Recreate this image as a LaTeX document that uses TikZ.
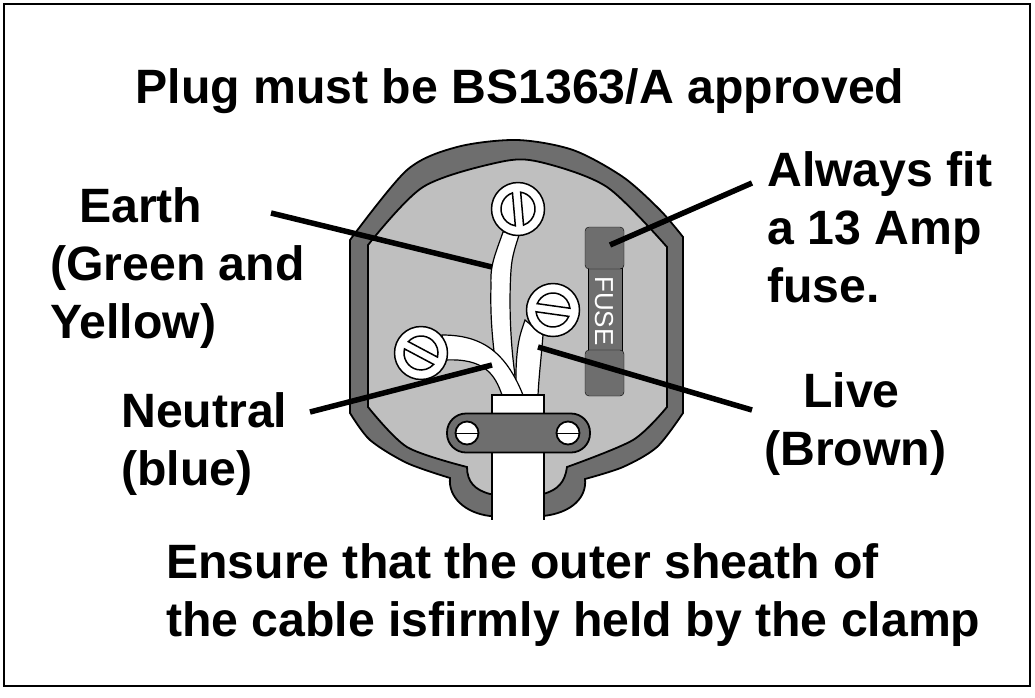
\documentclass[tikz,border=0pt]{standalone}
\usepackage{fontspec}
\setmainfont{Liberation Sans}
\usetikzlibrary{calc}
\definecolor{casing}{gray}{.43}
\definecolor{inside}{gray}{.75}
\tikzset{
  label_text/.style={font=\fontsize{48.2}{58}\bfseries\selectfont, align=left, inner sep=0pt, anchor=base west},
  leader/.style={line width=5.5pt, black},
  outline/.style={line width=1.8pt},
  wire/.style={draw, fill=white, line width=1.2pt},
  terminal/.style={draw, line width=1.5pt, fill=white, circle, minimum size=53pt, inner sep=0pt}
}
\begin{document}
\begin{tikzpicture}[x=1pt,y=-1pt]
  \useasboundingbox (0,0) rectangle (1035,697);
  \node [draw, line width=2pt, rectangle, minimum width=1026pt, minimum height=682pt, inner sep=0pt] at (517,345) (frame) {};

  % casing
  \draw [outline, fill=casing] plot [smooth, tension=.5] coordinates {(350,240) (407,170) (457,147) (517,140) (573,150) (623,177) (660,210) (683,237)}
    -- (683,413) -- plot [smooth, tension=.5] coordinates {(683,413) (657,447) (623,467) (585,479)}
    .. controls (587,497) and (572,513) .. (543,516) -- (490,516)
    .. controls (465,513) and (448,497) .. (450,478)
    -- plot [smooth, tension=.5] coordinates {(450,478) (407,463) (370,440) (350,413)} -- cycle;
  \draw [outline, fill=inside] plot [smooth, tension=.5] coordinates {(368,245) (423,187) (500,162) (540,162) (607,187) (667,247)}
    -- (667,407) -- plot [smooth, tension=.5] coordinates {(667,407) (633,440) (567,467)}
    .. controls (565,482) and (558,490) .. (543,494) -- (490,494)
    .. controls (475,490) and (467,482) .. (467,467)
    -- plot [smooth, tension=.5] coordinates {(467,467) (407,447) (368,407)} -- cycle;

  % fuse
  \node [draw, fill=casing, minimum width=34pt, minimum height=84pt, inner sep=0pt] at (605,310) (fuse_body) {};
  \node [draw, fill=casing, rounded corners=4pt, minimum width=39pt, minimum height=42pt, inner sep=0pt] at (604.5,248) (fuse_top) {};
  \node [draw, fill=casing, rounded corners=4pt, minimum width=39pt, minimum height=46pt, inner sep=0pt] at (604.5,373) (fuse_bottom) {};
  \node [rotate=-90, text=white, font=\fontsize{26}{26}\selectfont, inner sep=0pt] at (604,311) (fuse_label) {FUSE};

  % wires
  \path [wire] (503,232) .. controls (495,255) and (490,265) .. (491,285) .. controls (490,320) and (493,345) .. (497,375)
    -- (515,375) .. controls (510,340) and (509,300) .. (511,270) .. controls (512,255) and (516,245) .. (520,232) -- cycle;
  \path [wire] (525,320) .. controls (520,335) and (515,345) .. (516,395) -- (538,395) .. controls (539,375) and (541,360) .. (543,335) -- cycle;
  \path [wire] (442,335) .. controls (480,335) and (505,350) .. (523,395) -- (502,395) .. controls (495,375) and (485,358) .. (445,360) -- cycle;
  \node [draw, line width=1.2pt, fill=white, minimum width=52pt, minimum height=20pt, inner sep=0pt] at (518,405) (sheath) {};

  % cable and clamp
  \path [fill=white] (492,450) rectangle (544,520);
  \draw [outline] (492,450) -- (492,520) (544,450) -- (544,520);
  \node [draw, outline, fill=casing, rounded corners=19pt, minimum width=143pt, minimum height=39pt, inner sep=0pt] at (518.5,433) (clamp) {};
  \foreach \x/\n in {467/left,568/right}
  {
    \node [draw, outline, fill=white, circle, minimum size=23pt, inner sep=0pt] at (\x,433) (screw_\n) {};
    \draw (screw_\n.west) -- (screw_\n.east);
  }

  % terminals
  \foreach \x/\y/\a/\n in {518/209/85/earth, 553/310/8/live, 421/353/28/neutral}
  {
    \node [terminal] at (\x,\y) (terminal_\n) {};
    \begin{scope}[shift={(terminal_\n.center)}, rotate=-\a]
      \draw [line width=1.5pt] (194:17) arc (194:346:17) -- cycle;
      \draw [line width=1.5pt] (166:17) arc (166:14:17) -- cycle;
    \end{scope}
  }

  % leaders
  \coordinate (earth_end) at (492,267);
  \coordinate (fuse_end) at (610,245);
  \coordinate (neutral_end) at (492,365);
  \coordinate (live_end) at (538,347);

  \node [label_text, anchor=base] at (520,103) (title) {Plug must be BS1363/A approved};
  \node [label_text] at (50,338) (earth) {\hspace*{29pt}Earth\\(Green and\\Yellow)};
  \node [label_text] at (121,485) (neutral) {Neutral\\(blue)};
  \node [label_text] at (767,302) (always) {Always fit\\a 13 Amp\\fuse.};
  \node [label_text] at (764,465) (live) {\hspace*{39pt}Live\\(Brown)};
  \node [label_text] at (166,636) (ensure) {Ensure that the outer sheath of\\the cable isfirmly held by the clamp};

  \coordinate (earth_start) at (271,213);
  \coordinate (fuse_start) at (752,183);
  \coordinate (neutral_start) at (310,412);
  \coordinate (live_start) at (752,410);
  \draw [leader] (earth_start) -- (earth_end);
  \draw [leader] (fuse_start) -- (fuse_end);
  \draw [leader] (neutral_start) -- (neutral_end);
  \draw [leader] (live_start) -- (live_end);
\end{tikzpicture}
\end{document}
